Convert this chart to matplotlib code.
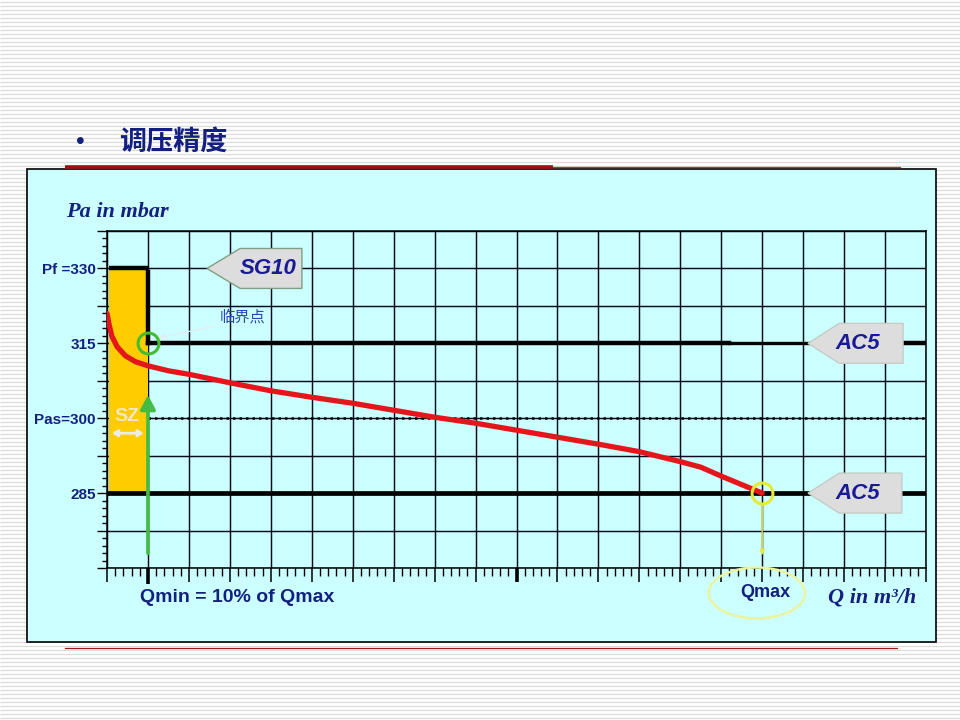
import numpy as np
import matplotlib
matplotlib.use('Agg')
import matplotlib.pyplot as plt
from matplotlib.patches import Rectangle, Polygon, Ellipse, FancyArrowPatch
from matplotlib.ticker import FixedLocator, FixedFormatter, MultipleLocator

plt.rcParams['font.family'] = ['Liberation Sans', 'Noto Sans CJK SC', 'DejaVu Sans']

navy = '#14207f'

# regulator curve, Q in grid units, Pa in mbar
q_curve = [0.0, 0.05, 0.12, 0.25, 0.45, 0.7, 1.0, 1.5, 2, 3, 4, 5, 6, 7,
           8, 9, 10, 11, 12, 13, 14, 14.5, 15, 15.5, 16]
p_curve = [321.0, 318.8, 316.4, 314.3, 312.5, 311.3, 310.5, 309.5, 308.8,
           307.1, 305.5, 304.2, 303.0, 301.6, 300.2, 299.0, 297.6, 296.2,
           294.8, 293.3, 291.3, 290.2, 288.4, 286.7, 285.0]

p_f = 330        # SG10 closing pressure
p_ac_up = 315    # AC5 upper
p_set = 300      # set point
p_ac_low = 285   # AC5 lower
q_min = 1.0
q_max = 16.0

ytick_major = [270, 277.5, 285, 292.5, 300, 307.5, 315, 322.5, 330, 337.5]
ytick_labels = ['', '', '285', '', 'Pas=300', '', '315', '', 'Pf =330', '']

fig = plt.figure(figsize=(9.6, 7.2), dpi=100)

# slide background in pixel coords
bg = fig.add_axes([0, 0, 1, 1])
bg.set_xlim(0, 960)
bg.set_ylim(720, 0)
bg.axis('off')
bg.hlines(np.arange(1.5, 720, 4), 0, 960, color='#dcdcdc', lw=0.9, zorder=0)
bg.add_patch(Rectangle((27, 169), 909, 473, facecolor='#ccffff',
                       edgecolor='black', lw=1.2, zorder=2))
bg.plot([65, 553], [166.5, 166.5], color='#a01010', lw=2.6,
        solid_capstyle='butt', zorder=3)
bg.plot([553, 900], [166.5, 166.5], color='#c03030', lw=0.9, zorder=3)
bg.plot([65, 897], [648, 648], color='#a01818', lw=0.9, zorder=3)
bg.text(80, 142, '•', fontsize=18, color=navy, ha='center', va='center')
bg.text(119, 142, '调压精度', fontsize=19.5, fontweight='bold', color=navy,
        family=['Noto Sans CJK SC', 'DejaVu Sans'], ha='left', va='center')
bg.text(66, 212, 'Pa in mbar', fontsize=16, fontweight='bold', style='italic',
        family='Liberation Serif', color=navy, ha='left', va='center', zorder=4)
bg.text(872, 598, 'Q in m³/h', fontsize=16, fontweight='bold', style='italic',
        family='Liberation Serif', color=navy, ha='center', va='center',
        zorder=4)
bg.text(237, 597, 'Qmin = 10% of Qmax', fontsize=14, fontweight='bold',
        color=navy, ha='center', va='center', zorder=4)

ax = fig.add_axes([107 / 960, 152 / 720, 819 / 960, 337 / 720])
ax.set_facecolor('none')
ax.set_xlim(0, 20)
ax.set_ylim(270, 337.5)
ax.set_axisbelow(True)

ax.xaxis.set_major_locator(MultipleLocator(1))
ax.xaxis.set_minor_locator(MultipleLocator(0.2))
ax.yaxis.set_major_locator(FixedLocator(ytick_major))
ax.yaxis.set_major_formatter(FixedFormatter(ytick_labels))
ax.yaxis.set_minor_locator(MultipleLocator(1.5))
ax.tick_params(axis='x', which='major', length=10, width=1.1, labelbottom=False)
ax.tick_params(axis='x', which='minor', length=6, width=1.0)
ax.tick_params(axis='y', which='major', length=7, width=1.0, pad=1,
               labelsize=11, labelcolor=navy)
ax.tick_params(axis='y', which='minor', length=3.5, width=1.0)
for lab in ax.get_yticklabels():
    lab.set_fontweight('bold')
ax.grid(True, which='major', color='#050a20', lw=1.05)
for s in ax.spines.values():
    s.set_color('black')
    s.set_linewidth(1.1)

# thick ticks at Qmin and at the middle
ax.plot([q_min, q_min], [270, 266.8], color='black', lw=2.6, clip_on=False,
        solid_capstyle='butt')
ax.plot([10, 10], [270, 267.2], color='black', lw=2.6, clip_on=False,
        solid_capstyle='butt')

# SZ zone
ax.add_patch(Rectangle((0.05, p_ac_low), q_min - 0.05, p_f - p_ac_low,
                       facecolor='#ffcc00', edgecolor='none', zorder=2))
ax.text(0.48, p_set + 0.3, 'SZ', fontsize=14, fontweight='bold',
        color='#f4e8c6', ha='center', va='center', zorder=3)
ax.annotate('', xy=(0.06, p_set - 3), xytext=(0.96, p_set - 3),
            arrowprops=dict(arrowstyle='<|-|>,head_length=0.3,head_width=0.2',
                            color='#ececec', lw=2.0), zorder=3)

# level lines
ax.plot([0.05, q_min], [p_f, p_f], color='black', lw=3.2, zorder=3,
        solid_capstyle='butt')
ax.plot([q_min, q_min], [p_f - 0.8, p_ac_up], color='black', lw=3.2, zorder=3)
ax.plot([q_min, 15.2], [p_ac_up, p_ac_up], color='black', lw=3.2, zorder=3)
ax.plot([15.2, 17.2], [p_ac_up, p_ac_up], color='black', lw=2.4, zorder=3)
ax.plot([19.4, 19.95], [p_ac_up, p_ac_up], color='black', lw=3.2, zorder=3)
ax.plot([0.05, 19.95], [p_ac_low, p_ac_low], color='black', lw=3.4, zorder=3)
ax.plot([q_min, 20], [p_set, p_set], color='black', lw=1.8,
        linestyle=(0, (1, 1.6)), zorder=3)

# green arrow at Qmin
ax.add_patch(FancyArrowPatch((q_min, 272.4), (q_min, 305.2),
                             arrowstyle='-|>,head_length=0.6,head_width=0.32',
                             mutation_scale=14, color='#44bb44', lw=2.6,
                             zorder=4))

# curve
ax.plot(q_curve, p_curve, color='#e4161b', lw=3.8, zorder=5,
        solid_capstyle='round', solid_joinstyle='round')

# critical point
ax.plot([q_min], [p_ac_up], marker='o', ms=15, mfc='none', mec='#44bb33',
        mew=2.2, zorder=6)
ax.annotate('', xy=(q_min + 0.17, p_ac_up + 0.9), xytext=(2.7, 318.6),
            arrowprops=dict(arrowstyle='-|>,head_length=0.4,head_width=0.15',
                            color='#e4ecf4', lw=0.9), zorder=4)
ax.text(3.3, 320.2, '临界点', fontsize=11, color='#2a48a8', ha='center',
        va='center', family=['Noto Sans CJK SC', 'DejaVu Sans'], zorder=6)

# Qmax point
ax.plot([q_max], [p_ac_low], marker='o', ms=15, mfc='none', mec='#e8e838',
        mew=2.2, zorder=6)
ax.annotate('', xy=(q_max, 272), xytext=(q_max, p_ac_low - 1.8),
            arrowprops=dict(arrowstyle='-|>,head_length=0.3,head_width=0.15',
                            color='#e8e84a', lw=1.0), zorder=4)
ax.add_patch(Ellipse((15.87, 265), 2.35, 10.2, facecolor='none',
                     edgecolor='#eaf3a0', lw=1.8, clip_on=False, zorder=4))
ax.text(16.07, 265, 'Qmax', fontsize=13, fontweight='bold', color=navy,
        ha='center', va='center', clip_on=False, zorder=6)


# arrow-shaped name boxes
def tag(x_tip, y, x_slant, x_right, x_text, text, edge):
    h = 4.0
    pts = [(x_tip, y), (x_slant, y + h), (x_right, y + h),
           (x_right, y - h), (x_slant, y - h)]
    ax.add_patch(Polygon(pts, closed=True, facecolor='#dddddd',
                         edgecolor=edge, lw=1.0, zorder=7))
    ax.text(x_text, y, text, fontsize=16, fontweight='bold', style='italic',
            color='#1a1a96', ha='center', va='center', zorder=8)


tag(2.44, p_f, 3.25, 4.76, 3.93, 'SG10', '#7f9f80')
tag(17.12, p_ac_up, 17.88, 19.44, 18.34, 'AC5', '#c4ccc4')
tag(17.12, p_ac_low, 17.88, 19.41, 18.34, 'AC5', '#c4ccc4')

fig.savefig('out.png', dpi=100)
